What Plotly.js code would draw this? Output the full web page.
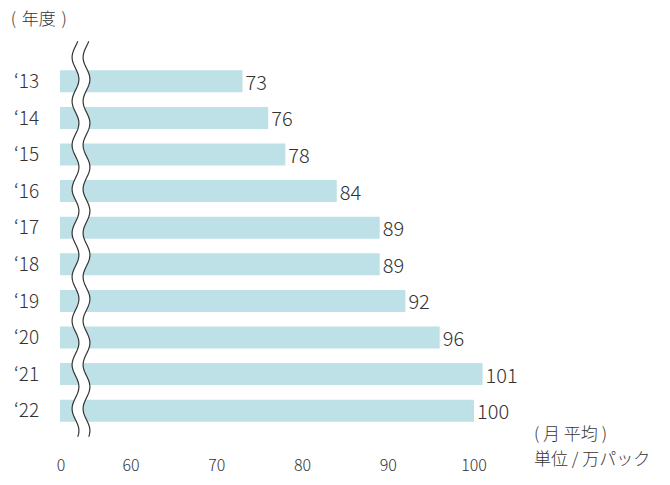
<!DOCTYPE html>
<html>
<head>
<meta charset="utf-8">
<script src="https://cdn.plot.ly/plotly-3.0.1.min.js"></script>
<style>html,body{margin:0;padding:0;background:#fff;}#chart{width:670px;height:485px;}</style>
</head>
<body>
<div id="chart"></div>
<script>
// Data
const years = ["‘13","‘14","‘15","‘16","‘17","‘18","‘19","‘20","‘21","‘22"];
const values = [73, 76, 78, 84, 89, 89, 92, 96, 101, 100];
const tickVals = [51.84, 60, 70, 80, 90, 100];
const tickText = ["0", "60", "70", "80", "90", "100"];

const FONT = '"Noto Sans CJK JP", "Noto Sans", sans-serif';
const W = 670, H = 485;
const mL = 60, mR = 150, mT = 62.7, mB = 55.7;
const plotW = W - mL - mR, plotH = H - mT - mB;
const xRange = [51.72, 51.72 + plotW / 8.575];

// pixel -> paper helpers for the decorative axis-break wave
const px = v => (v - mL) / plotW;
const py = v => (H - mB - v) / plotH;

function wave(cx, y0, y1, amp, period, phaseY) {
  const pts = [];
  for (let y = y0; y <= y1 + 0.01; y += 1) {
    const x = cx - amp * Math.cos(2 * Math.PI * (y - phaseY) / period);
    pts.push([x, y]);
  }
  return pts;
}
const leftW = wave(75.5, 41, 437, 3.4, 44, 57);
const rightW = wave(86.5, 41, 437, 3.4, 44, 57);
const toPath = (pts) => pts.map((p, i) => (i ? 'L' : 'M') + px(p[0]).toFixed(5) + ',' + py(p[1]).toFixed(5)).join(' ');
const fillPath = toPath(leftW) + ' ' + rightW.slice().reverse().map(p => 'L' + px(p[0]).toFixed(5) + ',' + py(p[1]).toFixed(5)).join(' ') + ' Z';

const shapes = [
  {type: 'path', xref: 'paper', yref: 'paper', path: fillPath, fillcolor: '#ffffff', line: {width: 0}, layer: 'above'},
  {type: 'path', xref: 'paper', yref: 'paper', path: toPath(leftW), fillcolor: 'rgba(0,0,0,0)', line: {color: '#333', width: 1.2}, layer: 'above'},
  {type: 'path', xref: 'paper', yref: 'paper', path: toPath(rightW), fillcolor: 'rgba(0,0,0,0)', line: {color: '#333', width: 1.2}, layer: 'above'}
];

const trace = {
  type: 'bar',
  orientation: 'h',
  y: years,
  x: values,
  marker: {color: '#bde1e6', line: {width: 0}},
  text: values.map(String),
  textposition: 'outside',
  constraintext: 'none',
  cliponaxis: false,
  textfont: {family: FONT, size: 20, color: '#333', weight: 300},
  hoverinfo: 'none'
};

const layout = {
  width: W, height: H,
  margin: {l: mL, r: mR, t: mT, b: mB, pad: 0},
  paper_bgcolor: '#fff', plot_bgcolor: '#fff',
  font: {family: FONT, color: '#333', weight: 300},
  showlegend: false,
  bargap: 0.4,
  title: {text: '(\u2004年度\u2004)', xref: 'container', yref: 'container', x: 0.016, xanchor: 'left', y: 1 - 19 / H, yanchor: 'middle', font: {family: FONT, size: 17, color: '#333', weight: 300}},
  xaxis: {
    range: xRange, tickvals: tickVals, ticktext: tickText,
    showgrid: false, zeroline: false, showline: false,
    ticks: 'outside', ticklen: 22, tickcolor: 'rgba(0,0,0,0)',
    tickfont: {family: FONT, size: 16, color: '#333', weight: 300}
  },
  yaxis: {
    autorange: 'reversed', type: 'category',
    showgrid: false, zeroline: false, showline: false,
    ticks: 'outside', ticklen: 16, tickcolor: 'rgba(0,0,0,0)',
    tickfont: {family: FONT, size: 19, color: '#333', weight: 300}
  },
  shapes: shapes,
  annotations: [
    {text: '( 月 平均 )', xref: 'paper', yref: 'paper', x: px(532), y: py(433), xanchor: 'left', yanchor: 'middle', showarrow: false, font: {family: FONT, size: 17, color: '#333', weight: 300}},
    {text: '単位 / 万パック', xref: 'paper', yref: 'paper', x: px(532), y: py(458), xanchor: 'left', yanchor: 'middle', showarrow: false, font: {family: FONT, size: 17, color: '#333', weight: 300}}
  ]
};

Plotly.newPlot('chart', [trace], layout, {displayModeBar: false, staticPlot: true});
</script>
</body>
</html>
